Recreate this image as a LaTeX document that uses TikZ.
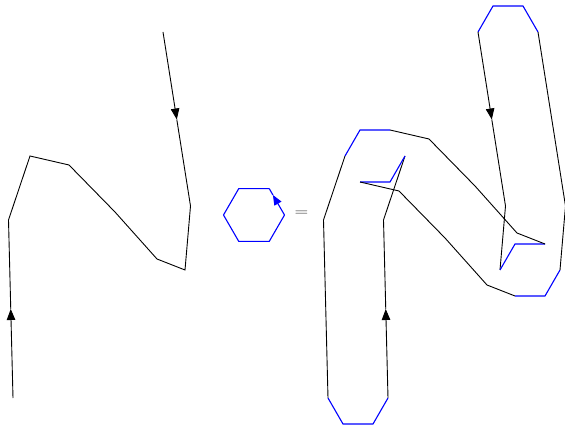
\documentclass[tikz,border=0pt]{standalone}
\usetikzlibrary{arrows.meta}
\begin{document}
\begin{tikzpicture}[x=1pt,y=-1pt,
  blk/.style={draw=black,line width=0.9pt},
  blu/.style={draw=blue,line width=1.1pt},
  tipk/.style={-{Triangle[length=11pt,width=8.5pt]}},
  tipb/.style={-{Triangle[length=10pt,width=8pt]}},
  eqsign/.style={font=\fontsize{12}{12}\selectfont,xscale=1.5,inner sep=0pt}]
\useasboundingbox (0,0) rectangle (565,430);
% ---- left curve ----
\coordinate (P0) at (13,398);
\coordinate (P1) at (8.5,220);
\coordinate (P2) at (30,156);
\coordinate (P3) at (69,165);
\coordinate (P4) at (115,212);
\coordinate (P5) at (157,259);
\coordinate (P6) at (185,270);
\coordinate (P7) at (190.5,206);
\coordinate (P8) at (163,32);
\coordinate (A1) at (10.75,309);
\coordinate (A2) at (176.8,119.5);
\draw[blk,tipk] (P0) -- (A1);
\draw[blk] (A1) -- (P1) -- (P2) -- (P3) -- (P4) -- (P5) -- (P6) -- (P7) -- (A2);
\draw[blk,tipk] (P8) -- (A2);
% ---- hexagon ----
\coordinate (K0) at (284.5,215);
\coordinate (K1) at (269.25,188.6);
\coordinate (K2) at (238.75,188.6);
\coordinate (K3) at (223.5,215);
\coordinate (K4) at (238.75,241.4);
\coordinate (K5) at (269.25,241.4);
\coordinate (KA) at (272.9,195);
\draw[blu] (K1) -- (K2) -- (K3) -- (K4) -- (K5) -- (K0);
\draw[blu,tipb] (K0) -- (KA);
\draw[blu] (KA) -- (K1);
% ---- equals ----
\node[eqsign] (eq) at (301.5,213) {$=$};
% ---- convolution ----
\coordinate (R1) at (388,398);
\coordinate (R2) at (383.5,220);
\coordinate (R3) at (405,156);
\coordinate (R4) at (390,182);
\coordinate (R5) at (360,182);
\coordinate (R6) at (399,191);
\coordinate (R7) at (445,238);
\coordinate (R8) at (487,285);
\coordinate (R9) at (515,296);
\coordinate (R10) at (545,296);
\coordinate (R11) at (560,270);
\coordinate (R12) at (565.5,206);
\coordinate (R13) at (538,32);
\coordinate (R14) at (523,6);
\coordinate (R15) at (493,6);
\coordinate (R16) at (478,32);
\coordinate (R17) at (505.5,206);
\coordinate (R18) at (500,270);
\coordinate (R19) at (515,244);
\coordinate (R20) at (545,244);
\coordinate (R21) at (517,233);
\coordinate (R22) at (475,186);
\coordinate (R23) at (429,139);
\coordinate (R24) at (390,130);
\coordinate (R25) at (360,130);
\coordinate (R26) at (345,156);
\coordinate (R27) at (323.5,220);
\coordinate (R28) at (328,398);
\coordinate (R29) at (343,424);
\coordinate (R30) at (373,424);
\coordinate (B1) at (385.75,309);
\coordinate (B2) at (491.8,119.5);
\draw[blk,tipk] (R1) -- (B1);
\draw[blk] (B1) -- (R2) -- (R3);
\draw[blu] (R3) -- (R4) -- (R5);
\draw[blk] (R5) -- (R6) -- (R7) -- (R8) -- (R9);
\draw[blu] (R9) -- (R10) -- (R11);
\draw[blk] (R11) -- (R12) -- (R13);
\draw[blu] (R13) -- (R14) -- (R15) -- (R16);
\draw[blk,tipk] (R16) -- (B2);
\draw[blk] (B2) -- (R17) -- (R18);
\draw[blu] (R18) -- (R19) -- (R20);
\draw[blk] (R20) -- (R21) -- (R22) -- (R23) -- (R24);
\draw[blu] (R24) -- (R25) -- (R26);
\draw[blk] (R26) -- (R27) -- (R28);
\draw[blu] (R28) -- (R29) -- (R30) -- (R1);
\end{tikzpicture}
\end{document}
